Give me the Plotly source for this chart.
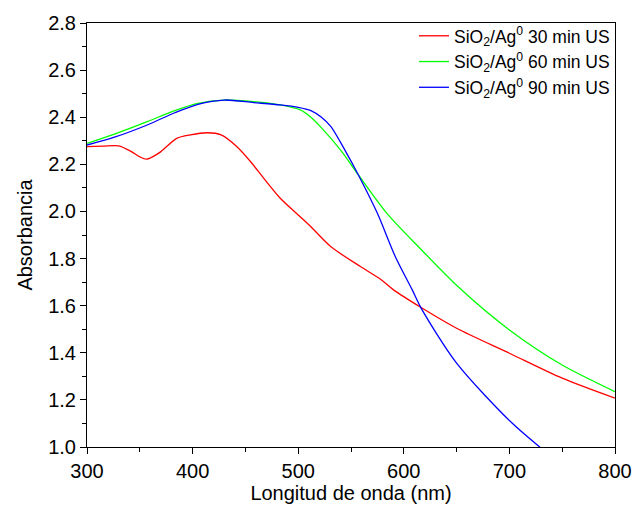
import plotly.graph_objects as go

# Wavelength (nm) and absorbance
x_30 = [300, 315, 330, 342, 350, 356, 362, 370, 385, 398, 414, 427, 442, 455, 468, 483, 500, 512, 531, 559, 578, 590, 616, 650, 700, 750, 800]
y_30 = [2.275, 2.277, 2.278, 2.254, 2.232, 2.222, 2.232, 2.254, 2.31, 2.325, 2.334, 2.325, 2.275, 2.211, 2.137, 2.056, 1.985, 1.935, 1.85, 1.766, 1.712, 1.668, 1.593, 1.504, 1.398, 1.292, 1.207]

x_60 = [300, 326, 357, 383, 405, 430, 458, 483, 502, 512, 521, 540, 557, 584, 615, 652, 700, 750, 800]
y_60 = [2.289, 2.328, 2.381, 2.428, 2.459, 2.473, 2.466, 2.452, 2.431, 2.40, 2.36, 2.261, 2.155, 1.992, 1.845, 1.678, 1.497, 1.348, 1.235]

x_90 = [300, 326, 357, 383, 405, 430, 458, 483, 500, 512, 522, 531, 545, 557, 575, 592, 608, 616, 650, 701, 730]
y_90 = [2.282, 2.315, 2.367, 2.419, 2.455, 2.473, 2.462, 2.452, 2.442, 2.428, 2.40, 2.36, 2.254, 2.155, 1.992, 1.808, 1.667, 1.593, 1.356, 1.108, 0.995]

names = ["SiO<sub>2</sub>/Ag<sup>0</sup> 30 min US",
         "SiO<sub>2</sub>/Ag<sup>0</sup> 60 min US",
         "SiO<sub>2</sub>/Ag<sup>0</sup> 90 min US"]
colors = ["#FF0000", "#00FF00", "#0000FF"]

FONT = "Arial, Liberation Sans, sans-serif"

fig = go.Figure()
for xs, ys, nm, c in zip([x_30, x_60, x_90], [y_30, y_60, y_90], names, colors):
    fig.add_trace(go.Scatter(x=xs, y=ys, mode="lines", name=nm,
                             line=dict(color=c, width=1.3, shape="spline", smoothing=0.8)))

fig.update_layout(
    width=633, height=507,
    margin=dict(l=87, r=18, t=23, b=60, autoexpand=False),
    paper_bgcolor="white", plot_bgcolor="white",
    font=dict(family=FONT, size=20, color="black"),
    showlegend=True,
    legend=dict(x=1.0, y=1.012, xanchor="right", yanchor="top",
                borderwidth=0, bgcolor="rgba(0,0,0,0)",
                font=dict(family=FONT, size=17.5, color="black"),
                tracegroupgap=0, itemwidth=30),
)
fig.update_xaxes(
    range=[300, 800], dtick=100, tick0=300,
    showline=True, linecolor="black", linewidth=1, mirror=True,
    ticks="outside", ticklen=6, tickcolor="black",
    minor=dict(dtick=50, ticks="outside", ticklen=4, tickcolor="black"),
    showgrid=False, zeroline=False,
    title=dict(text="Longitud de onda (nm)", standoff=0, font=dict(size=20)),
    tickfont=dict(size=20),
)
fig.update_yaxes(
    range=[1.0, 2.8], dtick=0.2, tick0=1.0, tickformat=".1f",
    showline=True, linecolor="black", linewidth=1, mirror=True,
    ticks="outside", ticklen=6, tickcolor="black",
    minor=dict(dtick=0.1, ticks="outside", ticklen=4, tickcolor="black"),
    showgrid=False, zeroline=False,
    title=dict(text="Absorbancia", standoff=10, font=dict(size=20)),
    tickfont=dict(size=20),
)

fig.write_html("out.html")
